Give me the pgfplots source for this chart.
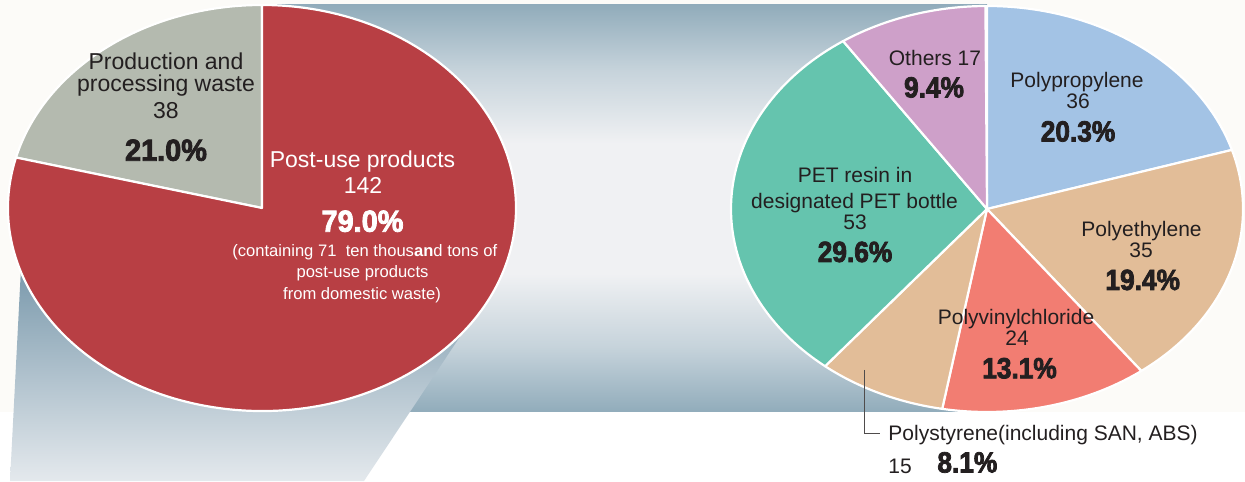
\documentclass[border=0pt]{standalone}
\usepackage{pgfplots}
\pgfplotsset{compat=1.18}
\usepackage{pgfplotstable}
\usepackage{fontspec}
\setmainfont{Liberation Sans}
\newfontfamily\pctL{Liberation Sans}[FakeStretch=0.95,BoldFeatures={FakeBold=2.6}]
\newfontfamily\pctR{Liberation Sans}[FakeStretch=0.9,BoldFeatures={FakeBold=2.6}]

\definecolor{cred}{HTML}{B83F44}
\definecolor{cgray}{HTML}{B4BAAF}
\definecolor{cpp}{HTML}{A3C3E5}
\definecolor{ctan}{HTML}{E2BD98}
\definecolor{cpvc}{HTML}{F27D72}
\definecolor{cpet}{HTML}{65C4AE}
\definecolor{cother}{HTML}{CEA0C9}
\definecolor{ctext}{HTML}{231F20}
\definecolor{bandDark}{HTML}{91ACBB}
\definecolor{bandMid}{HTML}{C6D3DB}
\definecolor{bandLight}{HTML}{F0F1F3}
\definecolor{trapTop}{HTML}{7A99AC}
\definecolor{trapBot}{HTML}{E4E9ED}
\definecolor{offwhite}{HTML}{FCFBF8}

\pgfdeclareverticalshading{band}{100bp}{color(0bp)=(bandDark); color(25bp)=(bandDark); color(33bp)=(bandMid); color(42bp)=(bandLight); color(58bp)=(bandLight); color(67bp)=(bandMid); color(75bp)=(bandDark); color(100bp)=(bandDark)}

\pgfplotstableread{
label value pct color
Production 38 21.0 cgray
Postuse 142 79.0 cred
}\leftdata

\pgfplotstableread{
label value pct color
PP 36 20.3 cpp
PE 35 19.4 ctan
PVC 24 13.1 cpvc
PS 15 8.1 ctan
PET 53 29.6 cpet
Others 17 9.4 cother
}\rightdata

% #1 table, #2 cx, #3 cy, #4 rx, #5 ry, #6 direction
\newcommand\drawpie[6]{%
  \pgfplotstablegetrowsof{#1}\pgfmathtruncatemacro\nr{\pgfplotsretval-1}%
  \xdef\pieang{90}%
  \foreach \i in {0,...,\nr}{%
    \pgfplotstablegetelem{\i}{pct}\of{#1}\let\pp\pgfplotsretval
    \pgfplotstablegetelem{\i}{color}\of{#1}\let\pc\pgfplotsretval
    \pgfmathsetmacro\pend{\pieang+#6*\pp*3.6}%
    \filldraw[fill=\pc,draw=white,line width=1.1pt,line join=round]
      (axis cs:#2,#3) -- ++(\pieang:#4 and #5)
      arc[start angle=\pieang,end angle=\pend,x radius=#4,y radius=#5] -- cycle;
    \xdef\pieang{\pend}%
  }%
}

\newcommand\lf{\fontsize{11.5}{13}\selectfont}
\newcommand\rf{\fontsize{10.5}{12}\selectfont}
\newcommand\smf{\fontsize{8.3}{10}\selectfont}

\begin{document}
\begin{tikzpicture}
\begin{axis}[
  width=622.5pt, height=240.5pt, scale only axis,
  xmin=0, xmax=1245, ymin=-481, ymax=0,
  hide axis, clip=false,
]
\pgfplotsextra{
  % backgrounds
  \fill[offwhite] (axis cs:0,0) rectangle (axis cs:1245,-412);
  \fill[white] (axis cs:0,-412) rectangle (axis cs:1245,-481);
  \shade[shading=band] (axis cs:262,-5) rectangle (axis cs:987,-412);
  \shade[top color=trapTop, bottom color=trapBot]
    (axis cs:21,-268) -- (axis cs:471,-320) -- (axis cs:364,-481) -- (axis cs:10,-481) -- cycle;
  % pies
  \drawpie{\leftdata}{262}{-208}{127pt}{101.5pt}{1}
  \drawpie{\rightdata}{987}{-209}{128pt}{101.5pt}{-1}
  % leader line
  \draw[ctext!80, line width=0.5pt] (axis cs:864,-370) -- (axis cs:864,-434) -- (axis cs:880,-434);
}
\begin{scope}[every node/.style={inner sep=0pt, anchor=base, text=ctext}]
% left pie labels
\node at (axis cs:166,-69.3) {\lf Production and};
\node at (axis cs:166,-91.7) {\lf processing waste};
\node at (axis cs:166,-119) {\lf 38};
\node at (axis cs:166,-160.7) {\pctL\bfseries\fontsize{15.2}{17}\selectfont 21.0\%};
\node[text=white] at (axis cs:362.5,-167.7) {\lf Post-use products};
\node[text=white] at (axis cs:363,-193.3) {\lf 142};
\node[text=white] at (axis cs:362.5,-231.7) {\pctL\bfseries\fontsize{15.2}{17}\selectfont 79.0\%};
\node[text=white] at (axis cs:364.7,-257) {\smf (containing 71\ \ ten thous\textbf{an}d tons of};
\node[text=white] at (axis cs:362.5,-277.3) {\smf post-use products};
\node[text=white] at (axis cs:362,-299.3) {\smf from domestic waste)};
% right pie labels
\node at (axis cs:935,-65.5) {\rf Others 17};
\node at (axis cs:934,-97.5) {\pctR\bfseries\fontsize{14.6}{17}\selectfont 9.4\%};
\node at (axis cs:1077,-88) {\rf Polypropylene};
\node at (axis cs:1078,-109) {\rf 36};
\node at (axis cs:1078,-141.5) {\pctR\bfseries\fontsize{14.6}{17}\selectfont 20.3\%};
\node at (axis cs:855,-183) {\rf PET resin in};
\node at (axis cs:854.5,-209) {\rf designated PET bottle};
\node at (axis cs:855,-230) {\rf 53};
\node at (axis cs:855,-262) {\pctR\bfseries\fontsize{14.6}{17}\selectfont 29.6\%};
\node at (axis cs:1141.5,-237) {\rf Polyethylene};
\node at (axis cs:1141,-258) {\rf 35};
\node at (axis cs:1142.7,-290) {\pctR\bfseries\fontsize{14.6}{17}\selectfont 19.4\%};
\node at (axis cs:1016,-325) {\rf Polyvinylchloride};
\node at (axis cs:1017,-345.5) {\rf 24};
\node at (axis cs:1019.5,-378.3) {\pctR\bfseries\fontsize{14.6}{17}\selectfont 13.1\%};
\node[anchor=base west] at (axis cs:888,-441) {\rf Polystyrene(including SAN, ABS)};
\node[anchor=base west] at (axis cs:888,-473) {\rf 15};
\node[anchor=base west] at (axis cs:937,-472.5) {\pctR\bfseries\fontsize{14.6}{17}\selectfont 8.1\%};
\end{scope}
\end{axis}
\pgfresetboundingbox
\path[use as bounding box] (current axis.south west) rectangle (current axis.north east);
\end{tikzpicture}
\end{document}
